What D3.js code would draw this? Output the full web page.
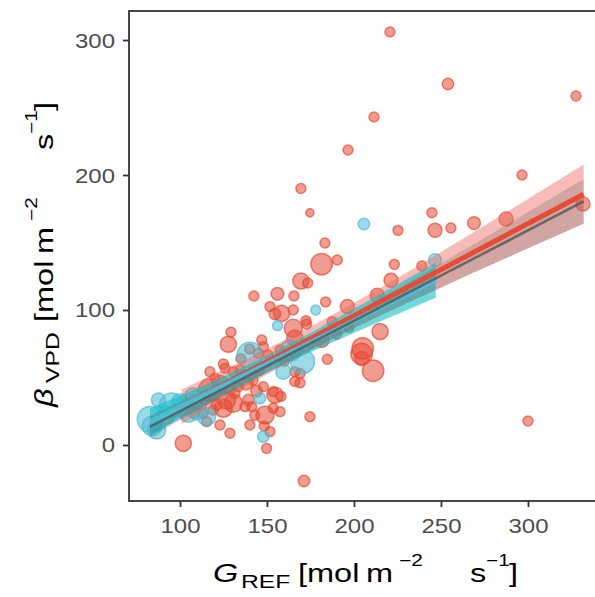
<!DOCTYPE html>
<html><head><meta charset="utf-8">
<script src="https://cdn.jsdelivr.net/npm/d3@7"></script>
<style>
html,body{margin:0;padding:0;background:#fff;}
svg{display:block;font-family:"Liberation Sans",Arial,Helvetica,sans-serif;}
</style></head><body>
<svg id="chart" width="595" height="597"></svg>
<script>
// ---- data: sites of group A (red) ----
const redG = [220.7,254,327.6,211.5,196.6,296.6,169.5,174.7,244.8,255.7,269,246.6,287.4,331.6,225.3,183.3,181.4,190.4,169.5,173.4,
  223.2,239,221.3,142.5,156,165.5,183.7,196.2,151.7,158.4,154.6,165.1,165.1,172.4,172.8,187.5,215,205,129.3,127.8,
  147,181.4,166,140,213.4,204.4,204.4,211,184.7,147.9,145,150.7,157.5,174.7,166,166,125.9,130.6,134.5,136.4,
  117.2,120.1,123,128.7,131.6,126.8,133.5,130.6,139.3,137.4,141.2,143,148.9,140.2,148.4,151.7,153.6,154.6,157.5,174.7,
  149.8,123,128.7,113.4,115.3,119.1,114.4,119.1,117.2,124.9,153.6,147.9,108.6,101.9,171.3,300,145,142,169,169,
  160,135,110,121,158,144,138,125,190,197];
const redBeta = [306,267.4,258.5,243,218.5,200,190,172,172,160.7,164.4,159,167.4,178.5,159,149.6,134,137,121.5,120,
  133.8,132.6,122,110.4,112,110.4,106,102.5,102.5,97.5,97,100,86.4,92,89.6,91.3,84,71.6,83.5,74.6,
  77.8,77.8,79,71,111,67.4,64,55,63.5,72.8,68,66.7,70.4,75.3,54.3,47,56.8,54.3,55.6,51.9,
  54.3,49.4,45.7,40.7,38.3,33.3,43.2,30.9,33.3,28.4,28.4,22,22.2,14.8,14,9.9,27.2,37,24.7,21,
  -2.5,14.8,8.7,23.5,17.3,25.9,33.3,35.8,40.7,27.2,39.5,43.2,23.5,1.2,-26.7,17.8,55.6,48,53,46,
  62,64,30,30,36,40,46,60,82,87];
const redWeight = [1.5,2,1.5,1.5,1.5,1.5,1.5,1,1.5,1.5,2.5,3,3,3,1.5,1.5,7,1.5,4,1.5,
  1.5,1.5,3,1.5,2.5,1.5,1.5,3,1.5,4,2,1.5,5,1.5,1.5,1.5,4,7,1.5,4,
  1.5,3.5,4,1.5,3,7,3,7,1.5,1.5,1.5,1.5,1.5,1.5,1.5,1.5,1.5,1.5,1.5,1.5,
  1.5,1.5,4,1.5,1.5,5,1.5,5,2,1.5,1.5,1.5,5,1.5,1.5,1.5,1.5,4,1.5,1.5,
  1.5,1.5,1.5,1.5,1.5,1.5,1.5,1.5,8,5,1.5,1.5,1.5,4,2,1.5,2,1.5,1.5,1.5,
  1.5,1.5,1.5,2,1.5,2,3,1.5,1.5,1.5];

// ---- data: sites of group B (cyan) ----
const cyanG = [205.7,246.6,178,156.1,163.5,170.4,159.4,140.2,146,147.9,107.5,82.8,84,87.6,95.2,86.6,104.8,115.3,109.6,100,92];
const cyanBeta = [163.7,137,100,88.4,70,61.8,54.3,66.7,34.6,6.2,36.5,19,14,33.3,29.6,11.1,23.5,21,25.9,32,22];
const cyanWeight = [2,2.5,1.5,1.5,7,9,3.5,10,2,2,4,10,6,3,9,5,5,5,6,4,5];

// ---- fitted lines and 95% confidence bands ----
const redLineG = [101,332], redLineBeta = [28.3,185.8];
const redBandG = [101,140,180,220,260,300,332];
const redBandLo = [15.3,44.9,73.3,98.8,122.6,145.7,163.8];
const redBandHi = [41.3,64.9,91.1,120,150.8,182.3,207.8];

const cyanLineG = [82.8,247], cyanLineBeta = [17,122];
const cyanBandG = [82.8,120,160,200,247];
const cyanBandLo = [7,33.7,59.8,82.9,109];
const cyanBandHi = [27,47.7,72.8,100.9,135];

const allLineG = [82.8,332], allLineBeta = [13.5,180.4];
const allBandG = [82.8,130,170,210,250,290,332];
const allBandLo = [5.6,39.6,66.9,92.7,116.5,139.8,163.9];
const allBandHi = [21.6,50.6,76.9,104.7,134.5,164.8,196.9];

const xTicks = [100,150,200,250,300];
const yTicks = [0,100,200,300];

// ---- layout ----
const panel = {left:129, top:11, bottom:501, right:600};
const SX = 1.2;   // horizontal glyph stretch for tick labels
const SXT = 1.3;  // horizontal glyph stretch for axis titles
const x = d3.scaleLinear().domain([70.7,341.4]).range([panel.left,panel.right]);
const y = d3.scaleLinear().domain([-41.5,321.5]).range([panel.bottom,panel.top]);
const r = d3.scaleSqrt().domain([0,12]).range([0,14]);

const svg = d3.select("#chart");
svg.append("rect").attr("width",595).attr("height",597).attr("fill","#fff");
svg.append("clipPath").attr("id","clip").append("rect")
  .attr("x",panel.left).attr("y",panel.top)
  .attr("width",panel.right-panel.left).attr("height",panel.bottom-panel.top);
const plot = svg.append("g").attr("clip-path","url(#clip)");

const zip = (a,b,c) => a.map((v,i)=>({g:v,b:b[i],w:c?c[i]:0}));
const band = (g,lo,hi) => g.map((v,i)=>({g:v,lo:lo[i],hi:hi[i]}));

// points
function drawPoints(data, color){
  plot.append("g").selectAll("circle").data(data).join("circle")
    .attr("cx",d=>x(d.g)).attr("cy",d=>y(d.b)).attr("r",d=>r(d.w))
    .attr("fill",color).attr("fill-opacity",0.55)
    .attr("stroke",color).attr("stroke-opacity",0.7).attr("stroke-width",1.5);
}
drawPoints(zip(redG,redBeta,redWeight),"#E64B35");
drawPoints(zip(cyanG,cyanBeta,cyanWeight),"#4DBBD5");

const area = d3.area().x(d=>x(d.g)).y0(d=>y(d.lo)).y1(d=>y(d.hi)).curve(d3.curveCatmullRom);
const line = d3.line().x(d=>x(d.g)).y(d=>y(d.b));

// group fits
plot.append("path").datum(band(redBandG,redBandLo,redBandHi)).attr("d",area)
  .attr("fill","#EE6A60").attr("fill-opacity",0.45);
plot.append("path").datum(band(cyanBandG,cyanBandLo,cyanBandHi)).attr("d",area)
  .attr("fill","#10BFC6").attr("fill-opacity",0.6);
// overall fit
plot.append("path").datum(band(allBandG,allBandLo,allBandHi)).attr("d",area)
  .attr("fill","#606060").attr("fill-opacity",0.25);
plot.append("path").datum(zip(redLineG,redLineBeta)).attr("d",line)
  .attr("fill","none").attr("stroke","#E64B35").attr("stroke-width",5);
plot.append("path").datum(zip(cyanLineG,cyanLineBeta)).attr("d",line)
  .attr("fill","none").attr("stroke","#4DBBD5").attr("stroke-width",5);
plot.append("path").datum(zip(allLineG,allLineBeta)).attr("d",line)
  .attr("fill","none").attr("stroke","#5a5a5a").attr("stroke-opacity",0.85).attr("stroke-width",2.5);

// frame
svg.append("rect").attr("x",panel.left).attr("y",panel.top)
  .attr("width",panel.right-panel.left+10).attr("height",panel.bottom-panel.top)
  .attr("fill","none").attr("stroke","#333").attr("stroke-width",1.8);

// axes
const xAxis = svg.append("g").attr("transform",`translate(0,${panel.bottom})`)
  .call(d3.axisBottom(x).tickValues(xTicks).tickSize(6).tickPadding(4));
const yAxis = svg.append("g").attr("transform",`translate(${panel.left},0)`)
  .call(d3.axisLeft(y).tickValues(yTicks).tickSize(6).tickPadding(4));
[xAxis,yAxis].forEach(a=>{
  a.select(".domain").remove();
  a.selectAll(".tick line").attr("stroke","#333").attr("stroke-width",1.8);
  a.selectAll(".tick text").attr("fill","#4D4D4D").attr("font-size",20)
    .attr("font-family","Liberation Sans, Arial, sans-serif");
});
xAxis.selectAll(".tick text").attr("y",null).attr("dy",null)
  .attr("transform",`translate(0,32) scale(${SX},1)`);
yAxis.selectAll(".tick text").attr("x",null).attr("dy","0.35em")
  .attr("transform",`translate(-14,0) scale(${SX},1)`);

// axis titles built from pieces: [text, offset, shift, size, italic]
const titleX = [
  ["G",0,0,25,true],["REF",28,6,19,false],["[mol",85,0,25,false],["m",153,0,25,false],
  ["\u22122",186,-16,16,false],["s",257,0,25,false],["\u22121",273,-16,16,false],["]",296,0,25,false]];
const titleY = [
  ["\u03B2",0,0,25,true],["VPD",24,6,19,false],["[mol",85,0,25,false],["m",153,0,25,false],
  ["\u22122",186,-16,16,false],["s",257,0,25,false],["\u22121",273,-16,16,false],["]",296,0,25,false]];

const tx = svg.append("g");
titleX.forEach(([t,off,sh,sz,it])=>{
  tx.append("text").text(t).attr("font-size",sz).attr("font-style",it?"italic":"normal")
    .attr("fill","#000")
    .attr("transform",`translate(${213+off},${582+sh}) scale(${SXT},1)`);
});
const ty = svg.append("g");
titleY.forEach(([t,off,sh,sz,it])=>{
  ty.append("text").text(t).attr("font-size",sz).attr("font-style",it?"italic":"normal")
    .attr("fill","#000")
    .attr("transform",`translate(${53+sh},${407-off}) rotate(-90) scale(${SXT},1)`);
});
</script>
</body></html>
